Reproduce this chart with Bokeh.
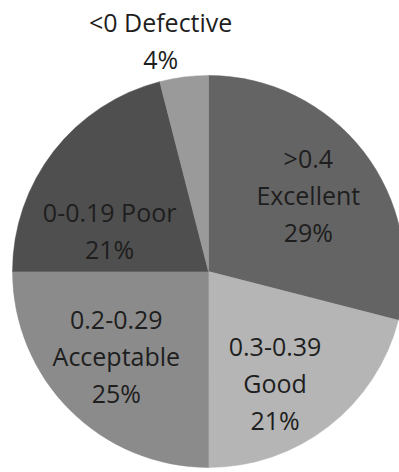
import math
from bokeh.plotting import figure
from bokeh.models import ColumnDataSource, Range1d
from bokeh.embed import file_html
from bokeh.resources import INLINE
from bokeh.core.properties import value

# ---- data ----
ranges = [">0.4", "0.3-0.39", "0.2-0.29", "0-0.19", "<0"]
grades = ["Excellent", "Good", "Acceptable", "Poor", "Defective"]
percents = [29, 21, 25, 21, 4]

# ---- style / layout ----
colors = ["#646464", "#b5b5b5", "#8b8b8b", "#4f4f4f", "#9a9a9a"]
W, H = 399, 472
cx, cy, R = 208, H - 271, 196
# label placement: (radius in px, angle offset in degrees from slice middle)
label_layout = [(126, 0.2), (130, 7.0), (125, 2.5), (107, -15.3), (236, -4.5)]
label_text_fmt = ["{r}\n{g}\n{p}%", "{r}\n{g}\n{p}%", "{r}\n{g}\n{p}%", "{r} {g}\n{p}%", "{r} {g}\n{p}%"]

total = sum(percents)
starts, ends, lx, ly, texts = [], [], [], [], []
cum = 0.0
for i, pct in enumerate(percents):
    f0 = cum / total
    cum += pct
    f1 = cum / total
    starts.append(math.pi / 2 - f0 * 2 * math.pi)
    ends.append(math.pi / 2 - f1 * 2 * math.pi)
    mid = (f0 + f1) / 2 * 360 + label_layout[i][1]
    rr = label_layout[i][0]
    lx.append(cx + rr * math.sin(math.radians(mid)))
    ly.append(cy + rr * math.cos(math.radians(mid)))
    texts.append(label_text_fmt[i].format(r=ranges[i], g=grades[i], p=pct))

src = ColumnDataSource(dict(start=starts, end=ends, color=colors))
lsrc = ColumnDataSource(dict(x=lx, y=ly, text=texts))

p = figure(width=W, height=H, x_range=Range1d(0, W), y_range=Range1d(0, H),
           output_backend="svg", toolbar_location=None, min_border=0)
p.axis.visible = False
p.grid.visible = False
p.outline_line_color = None
p.background_fill_color = "white"
p.border_fill_color = "white"

p.wedge(x=cx, y=cy, radius=R, start_angle="start", end_angle="end",
        direction="clock", fill_color="color", line_color="color",
        line_width=0.5, source=src)

p.text(x="x", y="y", text="text", source=lsrc, text_align="center",
       text_baseline="middle", text_font=value("Open Sans"),
       text_font_size="25px", text_color="#1e1e1e", text_line_height=1.09)

open("out.html", "w").write(file_html(p, INLINE))
